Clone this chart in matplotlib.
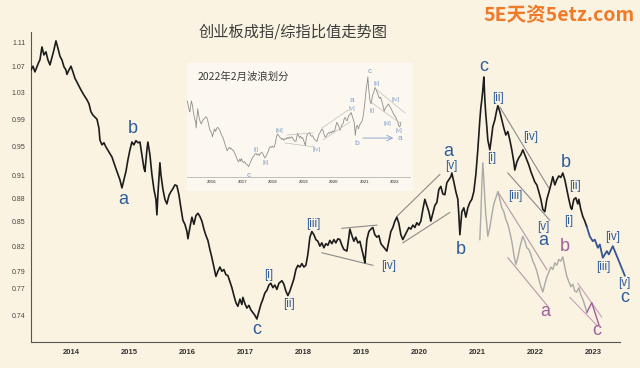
import numpy as np
import matplotlib
matplotlib.use('Agg')
import matplotlib.pyplot as plt
from matplotlib.patches import Rectangle

plt.rcParams['font.family'] = ['Liberation Sans', 'DejaVu Sans']
CJK = ['Noto Sans CJK SC', 'DejaVu Sans']

BG = '#faf3e1'
INSET_BG = '#fcf8ef'
BLUE = '#2f5c9c'
PINK = '#a0609c'

# ChiNext / composite ratio, (year, ratio)
main_pts = [
    (2013.312, 1.065), (2013.346, 1.071), (2013.380, 1.062), (2013.415, 1.070), (2013.449, 1.078),
    (2013.466, 1.081), (2013.501, 1.102), (2013.535, 1.089), (2013.570, 1.094), (2013.604, 1.081),
    (2013.639, 1.073), (2013.673, 1.085), (2013.707, 1.097), (2013.742, 1.112), (2013.776, 1.100),
    (2013.811, 1.087), (2013.845, 1.081), (2013.880, 1.070), (2013.914, 1.065), (2013.931, 1.058),
    (2013.966, 1.065), (2014.000, 1.071), (2014.034, 1.062), (2014.069, 1.052), (2014.103, 1.046),
    (2014.138, 1.040), (2014.172, 1.034), (2014.224, 1.026), (2014.275, 1.019), (2014.310, 1.013),
    (2014.344, 1.001), (2014.379, 0.996), (2014.413, 0.993), (2014.448, 0.990), (2014.482, 0.977),
    (2014.499, 0.960), (2014.534, 0.953), (2014.568, 0.956), (2014.602, 0.950), (2014.654, 0.943),
    (2014.706, 0.936), (2014.757, 0.924), (2014.792, 0.916), (2014.843, 0.905), (2014.878, 0.894),
    (2014.912, 0.905), (2014.947, 0.916), (2014.981, 0.932), (2015.016, 0.946), (2015.050, 0.957),
    (2015.084, 0.953), (2015.119, 0.959), (2015.153, 0.956), (2015.188, 0.957), (2015.222, 0.939),
    (2015.256, 0.921), (2015.274, 0.916), (2015.308, 0.946), (2015.325, 0.957), (2015.360, 0.939),
    (2015.394, 0.912), (2015.429, 0.892), (2015.463, 0.879), (2015.480, 0.859), (2015.497, 0.885),
    (2015.532, 0.928), (2015.549, 0.912), (2015.584, 0.892), (2015.618, 0.879), (2015.652, 0.873),
    (2015.687, 0.884), (2015.721, 0.889), (2015.756, 0.893), (2015.790, 0.898), (2015.824, 0.897),
    (2015.859, 0.885), (2015.893, 0.868), (2015.928, 0.852), (2015.962, 0.847), (2015.997, 0.838),
    (2016.014, 0.829), (2016.048, 0.843), (2016.083, 0.856), (2016.117, 0.847), (2016.152, 0.858),
    (2016.186, 0.861), (2016.220, 0.857), (2016.255, 0.851), (2016.289, 0.841), (2016.324, 0.833),
    (2016.358, 0.827), (2016.392, 0.816), (2016.427, 0.806), (2016.461, 0.795), (2016.496, 0.784),
    (2016.530, 0.790), (2016.565, 0.795), (2016.599, 0.790), (2016.633, 0.792), (2016.668, 0.786),
    (2016.702, 0.785), (2016.737, 0.778), (2016.771, 0.771), (2016.806, 0.762), (2016.840, 0.754),
    (2016.874, 0.750), (2016.909, 0.758), (2016.943, 0.752), (2016.960, 0.760), (2016.995, 0.753),
    (2017.029, 0.748), (2017.064, 0.751), (2017.098, 0.746), (2017.133, 0.743), (2017.167, 0.740),
    (2017.201, 0.736), (2017.236, 0.744), (2017.270, 0.752), (2017.305, 0.758), (2017.339, 0.765),
    (2017.374, 0.768), (2017.408, 0.774), (2017.442, 0.776), (2017.477, 0.771), (2017.511, 0.774),
    (2017.546, 0.769), (2017.580, 0.776), (2017.632, 0.779), (2017.666, 0.775), (2017.701, 0.767),
    (2017.735, 0.762), (2017.769, 0.767), (2017.804, 0.774), (2017.838, 0.781), (2017.873, 0.792),
    (2017.907, 0.797), (2017.942, 0.795), (2017.976, 0.799), (2018.010, 0.795), (2018.045, 0.797),
    (2018.079, 0.810), (2018.114, 0.831), (2018.148, 0.838), (2018.183, 0.834), (2018.217, 0.828),
    (2018.251, 0.826), (2018.286, 0.820), (2018.320, 0.824), (2018.355, 0.818), (2018.389, 0.823),
    (2018.424, 0.821), (2018.458, 0.827), (2018.492, 0.823), (2018.527, 0.828), (2018.561, 0.824),
    (2018.596, 0.829), (2018.630, 0.828), (2018.665, 0.821), (2018.699, 0.816), (2018.751, 0.814),
    (2018.785, 0.831), (2018.802, 0.841), (2018.837, 0.833), (2018.871, 0.826), (2018.905, 0.831),
    (2018.940, 0.824), (2018.974, 0.826), (2019.009, 0.816), (2019.043, 0.806), (2019.060, 0.800),
    (2019.095, 0.828), (2019.129, 0.838), (2019.164, 0.841), (2019.198, 0.843), (2019.232, 0.834),
    (2019.267, 0.831), (2019.301, 0.833), (2019.336, 0.823), (2019.370, 0.820), (2019.405, 0.817),
    (2019.439, 0.814), (2019.473, 0.826), (2019.508, 0.838), (2019.542, 0.843), (2019.577, 0.851),
    (2019.611, 0.856), (2019.646, 0.848), (2019.680, 0.834), (2019.714, 0.828), (2019.749, 0.833),
    (2019.783, 0.838), (2019.818, 0.843), (2019.852, 0.841), (2019.887, 0.846), (2019.921, 0.843),
    (2019.955, 0.849), (2019.990, 0.846), (2020.024, 0.851), (2020.059, 0.866), (2020.093, 0.879),
    (2020.127, 0.871), (2020.162, 0.863), (2020.196, 0.851), (2020.231, 0.861), (2020.265, 0.871),
    (2020.300, 0.875), (2020.334, 0.892), (2020.368, 0.896), (2020.403, 0.886), (2020.437, 0.885),
    (2020.472, 0.901), (2020.506, 0.905), (2020.541, 0.909), (2020.558, 0.914), (2020.592, 0.902),
    (2020.627, 0.889), (2020.661, 0.879), (2020.678, 0.859), (2020.696, 0.834), (2020.730, 0.863),
    (2020.764, 0.868), (2020.799, 0.856), (2020.833, 0.868), (2020.868, 0.875), (2020.902, 0.879),
    (2020.936, 0.889), (2020.971, 0.912), (2021.005, 0.946), (2021.040, 0.989), (2021.057, 1.007),
    (2021.074, 1.019), (2021.091, 1.034), (2021.109, 1.054), (2021.126, 1.019), (2021.143, 0.996),
    (2021.160, 0.979), (2021.177, 0.960), (2021.212, 0.946), (2021.246, 0.967), (2021.263, 0.979),
    (2021.298, 0.989), (2021.332, 1.004), (2021.350, 1.010), (2021.384, 1.001), (2021.418, 0.989),
    (2021.453, 0.977), (2021.487, 0.967), (2021.522, 0.972), (2021.556, 0.960), (2021.590, 0.946),
    (2021.625, 0.929), (2021.642, 0.918), (2021.677, 0.929), (2021.711, 0.935), (2021.745, 0.939),
    (2021.780, 0.946), (2021.814, 0.939), (2021.849, 0.932), (2021.883, 0.925), (2021.918, 0.916),
    (2021.952, 0.909), (2021.986, 0.902), (2022.021, 0.898), (2022.055, 0.889), (2022.090, 0.879),
    (2022.124, 0.866), (2022.159, 0.863), (2022.193, 0.879), (2022.227, 0.888), (2022.262, 0.898),
    (2022.296, 0.909), (2022.331, 0.898), (2022.365, 0.905), (2022.399, 0.910), (2022.434, 0.908),
    (2022.468, 0.914), (2022.503, 0.905), (2022.537, 0.892), (2022.572, 0.879), (2022.606, 0.868),
    (2022.623, 0.866), (2022.658, 0.879), (2022.692, 0.881), (2022.726, 0.873), (2022.744, 0.879),
    (2022.778, 0.866), (2022.812, 0.857), (2022.847, 0.851), (2022.881, 0.844),
]

# projected path (blue, solid)
blue_pts = [
    (2022.881, 0.844), (2022.933, 0.832), (2022.985, 0.826), (2023.019, 0.828), (2023.071, 0.818),
    (2023.105, 0.822), (2023.157, 0.806), (2023.226, 0.814), (2023.260, 0.810), (2023.329, 0.820),
    (2023.535, 0.785),
]

# earlier projection (light grey copy)
gray_pts = [
    (2021.040, 0.828), (2021.057, 0.859), (2021.074, 0.898), (2021.091, 0.928), (2021.109, 0.905),
    (2021.126, 0.879), (2021.143, 0.859), (2021.160, 0.847), (2021.177, 0.832), (2021.212, 0.843),
    (2021.246, 0.859), (2021.281, 0.873), (2021.315, 0.881), (2021.350, 0.889), (2021.384, 0.879),
    (2021.418, 0.868), (2021.453, 0.863), (2021.487, 0.853), (2021.522, 0.847), (2021.556, 0.837),
    (2021.590, 0.826), (2021.625, 0.810), (2021.659, 0.798), (2021.694, 0.806), (2021.728, 0.818),
    (2021.763, 0.828), (2021.780, 0.832), (2021.814, 0.826), (2021.849, 0.818), (2021.883, 0.816),
    (2021.918, 0.810), (2021.952, 0.802), (2021.986, 0.797), (2022.021, 0.790), (2022.055, 0.781),
    (2022.090, 0.772), (2022.124, 0.766), (2022.159, 0.775), (2022.193, 0.783), (2022.227, 0.789),
    (2022.262, 0.795), (2022.296, 0.792), (2022.331, 0.800), (2022.365, 0.797), (2022.399, 0.804),
    (2022.434, 0.802), (2022.468, 0.807), (2022.503, 0.795), (2022.537, 0.784), (2022.572, 0.778),
    (2022.606, 0.772), (2022.640, 0.775), (2022.675, 0.767), (2022.709, 0.766), (2022.744, 0.771),
    (2022.778, 0.763), (2022.812, 0.758), (2022.847, 0.751), (2022.881, 0.744),
]
purple_pts = [(2022.881, 0.743), (2022.967, 0.754), (2023.088, 0.730)]

# trend / channel lines: (x0, y0, x1, y1, colour)
main_lines = [
    (2018.665, 0.842, 2019.267, 0.846, '#8a8a8a'),
    (2018.320, 0.812, 2019.198, 0.797, '#8a8a8a'),
    (2019.611, 0.857, 2020.351, 0.912, '#8a8a8a'),
    (2019.714, 0.824, 2020.523, 0.862, '#8a8a8a'),
    (2021.384, 1.008, 2022.227, 0.894, '#8a8a8a'),
    (2021.522, 0.914, 2022.245, 0.852, '#8a8a8a'),
    (2021.350, 0.889, 2022.193, 0.792, '#b09aa8'),
    (2021.522, 0.806, 2022.210, 0.750, '#b09aa8'),
    (2022.726, 0.776, 2023.140, 0.738, '#c8a0b8'),
    (2022.589, 0.760, 2023.071, 0.728, '#c8a0b8'),
]

# wave labels: (text, x, y, colour, size)
main_labels = [
    ('b', 2015.067, 0.977, BLUE, 13), ('a', 2014.895, 0.879, BLUE, 13),
    ('c', 2017.201, 0.725, BLUE, 13), ('[i]', 2017.408, 0.786, BLUE, 8.5),
    ('[ii]', 2017.752, 0.752, BLUE, 8.5), ('[iii]', 2018.165, 0.848, BLUE, 8.5),
    ('[iv]', 2019.473, 0.796, BLUE, 8.5), ('a', 2020.489, 0.943, BLUE, 13),
    ('[v]', 2020.541, 0.924, BLUE, 8.5), ('b', 2020.713, 0.816, BLUE, 13),
    ('c', 2021.109, 1.071, BLUE, 13), ('[ii]', 2021.350, 1.021, BLUE, 8.5),
    ('[i]', 2021.246, 0.934, BLUE, 8.5), ('[iv]', 2021.918, 0.964, BLUE, 8.5),
    ('b', 2022.520, 0.929, BLUE, 13), ('[iii]', 2021.642, 0.883, BLUE, 8.5),
    ('[v]', 2022.141, 0.844, BLUE, 8.5), ('a', 2022.124, 0.827, BLUE, 13),
    ('[ii]', 2022.675, 0.896, BLUE, 8.5), ('[i]', 2022.572, 0.851, BLUE, 8.5),
    ('[iv]', 2023.329, 0.831, BLUE, 8.5), ('[iii]', 2023.157, 0.795, BLUE, 8.5),
    ('[v]', 2023.535, 0.776, BLUE, 8.5), ('c', 2023.535, 0.760, BLUE, 13),
    ('b', 2022.503, 0.820, PINK, 13), ('a', 2022.159, 0.744, PINK, 13),
    ('c', 2023.054, 0.724, PINK, 13),
]

y_ticks = [0.74, 0.77, 0.79, 0.82, 0.85, 0.88, 0.91, 0.95, 0.99, 1.03, 1.07, 1.11]
x_ticks = list(range(2014, 2024))

# inset (Feb 2022 count)
inset_end = 2022.2
inset_ticks = list(range(2016, 2023))
inset_lines = [
    (2018.46, 0.835, 2019.31, 0.842), (2018.39, 0.809, 2019.38, 0.796),
    (2019.61, 0.859, 2020.46, 0.923), (2019.64, 0.819, 2020.52, 0.880),
    (2021.41, 1.000, 2022.33, 0.912), (2021.25, 0.949, 2022.16, 0.876),
]
inset_labels = [
    ('c', 2017.21, 0.709, 6), ('[i]', 2017.44, 0.787, 4.5), ('[ii]', 2017.77, 0.747, 4.5),
    ('[iii]', 2018.20, 0.852, 4.5), ('[iv]', 2019.44, 0.787, 4.5), ('a', 2020.59, 0.957, 6),
    ('[v]', 2020.59, 0.927, 4.5), ('b', 2020.75, 0.806, 6), ('c', 2021.18, 1.075, 6),
    ('[ii]', 2021.41, 1.025, 4.5), ('[i]', 2021.25, 0.923, 4.5), ('[iv]', 2022.03, 0.961, 4.5),
    ('[iii]', 2021.74, 0.876, 4.5), ('[v]', 2022.13, 0.852, 4.5), ('a', 2022.16, 0.822, 6),
]
inset_arrow = (2020.85, 0.825, 2022.03, 0.825)

mx, my = zip(*main_pts)
bx, by = zip(*blue_pts)
gx, gy = zip(*gray_pts)
px, py = zip(*purple_pts)
mx = np.array(mx)
my = np.array(my)

fig = plt.figure(figsize=(6.4, 3.68), dpi=100, facecolor=BG)
fig.patches.append(Rectangle((187 / 640, 1 - 190 / 368), 225 / 640, 127 / 368,
                             transform=fig.transFigure, color=INSET_BG, zorder=-1))

ax = fig.add_axes([0.0484, 0.0707, 0.920, 0.842])
ax.set_facecolor('none')
ax.set_yscale('log')
ax.plot(gx, gy, color='#a9a9a9', lw=1.0, zorder=2)
ax.plot(mx, my, color='#1c1c1c', lw=1.2, zorder=3)
ax.plot(bx, by, color='#35558f', lw=1.3, zorder=3, clip_on=False)
ax.plot(px, py, color='#a05a9a', lw=1.0, zorder=3)
for x0, y0, x1, y1, c in main_lines:
    ax.plot([x0, x1], [y0, y1], color=c, lw=0.8, zorder=1)
for s, x, y, c, fs in main_labels:
    ax.text(x, y, s, color=c, fontsize=fs, ha='center', va='center', zorder=4)

ax.set_xlim(2013.312, 2023.449)
ax.set_ylim(0.7113, 1.1265)
ax.set_yticks(y_ticks)
ax.set_yticklabels(['%.2f' % v for v in y_ticks])
ax.yaxis.set_minor_locator(matplotlib.ticker.NullLocator())
ax.set_xticks(x_ticks)
ax.set_xticklabels([str(v) for v in x_ticks], fontweight='bold')
ax.tick_params(axis='y', length=0, pad=4, labelsize=5, labelcolor='#444444')
ax.tick_params(axis='x', length=0, pad=5, labelsize=5.5, labelcolor='#333333')
for side in ['top', 'right']:
    ax.spines[side].set_visible(False)
for side in ['left', 'bottom']:
    ax.spines[side].set_color('#555555')
    ax.spines[side].set_linewidth(0.8)

# inset chart
ax2 = fig.add_axes([187 / 640, 1 - 177 / 368, 223 / 640, 114 / 368])
ax2.set_facecolor('none')
ax2.set_yscale('log')
keep = mx <= inset_end
ax2.plot(mx[keep], my[keep], color='#8e8e8e', lw=0.6)
for x0, y0, x1, y1 in inset_lines:
    ax2.plot([x0, x1], [y0, y1], color='#bdbdbd', lw=0.5)
for s, x, y, fs in inset_labels:
    ax2.text(x, y, s, color='#7f9fcc', fontsize=fs, ha='center', va='center')
ax2.annotate('', xy=inset_arrow[2:], xytext=inset_arrow[:2],
             arrowprops=dict(arrowstyle='->', color='#7f9fcc', lw=0.6))
ax2.set_xlim(2015.18, 2022.49)
ax2.set_ylim(0.706, 1.114)
ax2.set_xticks(inset_ticks)
ax2.set_xticklabels([str(v) for v in inset_ticks], fontweight='bold')
ax2.set_yticks([])
ax2.yaxis.set_minor_locator(matplotlib.ticker.NullLocator())
ax2.tick_params(axis='x', length=0, pad=2, labelsize=3.2, labelcolor='#666666')
for side in ['top', 'right', 'left']:
    ax2.spines[side].set_visible(False)
ax2.spines['bottom'].set_color('#b5b5b5')
ax2.spines['bottom'].set_linewidth(0.6)
fig.text(198 / 640, 1 - 77 / 368, '2022年2月波浪划分', family=CJK, fontsize=7.5,
         color='#3a3a3a', ha='left', va='center')

fig.text(0.458, 0.913, '创业板成指/综指比值走势图', family=CJK, fontsize=11,
         color='#3d3d3d', ha='center', va='center')
fig.text(0.873, 0.959, '5E天资5etz.com', family=CJK, fontsize=14, fontweight='bold',
         color='#f07a28', ha='center', va='center')

fig.savefig('out.png', dpi=100, facecolor=BG)
